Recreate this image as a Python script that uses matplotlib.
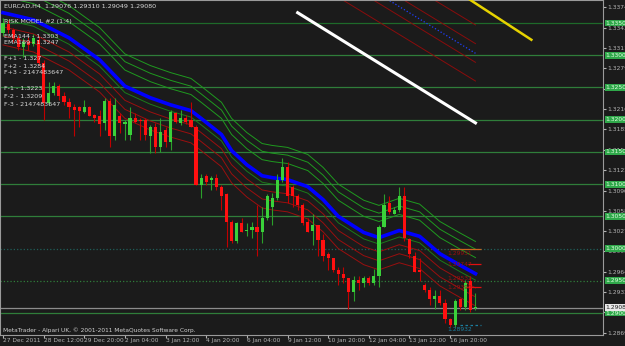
import matplotlib.pyplot as plt
import numpy as np

# EURCAD H4 candles (open, high, low, close)
opens = [1.3335, 1.3349, 1.3339, 1.3327, 1.3313, 1.3321, 1.3318, 1.3324, 1.3288, 1.3226,
         1.3242, 1.3253, 1.3237, 1.3228, 1.3220, 1.3219, 1.3212, 1.3219, 1.3208, 1.3205,
         1.3195, 1.3229, 1.3175, 1.3205, 1.3194, 1.3177, 1.3203, 1.3200, 1.3200, 1.3174,
         1.3189, 1.3157, 1.3184, 1.3166, 1.3211, 1.3195, 1.3203, 1.3200, 1.3189, 1.3099,
         1.3112, 1.3107, 1.3109, 1.3095, 1.3084, 1.3042, 1.3011, 1.3040, 1.3028, 1.3029,
         1.3033, 1.3025, 1.3047, 1.3065, 1.3078, 1.3107, 1.3127, 1.3095, 1.3081, 1.3068,
         1.3042, 1.3028, 1.3036, 1.3014, 1.2991, 1.2985, 1.2967, 1.2960, 1.2954, 1.2933,
         1.2952, 1.2947, 1.2954, 1.2947, 1.2957, 1.3034, 1.3070, 1.3054, 1.3060, 1.3081,
         1.3015, 1.2989, 1.2967, 1.2944, 1.2936, 1.2921, 1.2926, 1.2916, 1.2890, 1.2882,
         1.2921, 1.2909, 1.2949, 1.29076]
highs = [1.3358, 1.3355, 1.3343, 1.3332, 1.3327, 1.3329, 1.3333, 1.3330, 1.3293, 1.3259,
         1.3259, 1.3256, 1.3243, 1.3234, 1.3225, 1.3222, 1.3231, 1.3222, 1.3209, 1.3215,
         1.3233, 1.3234, 1.3234, 1.3211, 1.3200, 1.3220, 1.3211, 1.3203, 1.3203, 1.3192,
         1.3195, 1.3203, 1.3189, 1.3215, 1.3212, 1.3215, 1.3208, 1.3228, 1.3192, 1.3115,
         1.3115, 1.3112, 1.3115, 1.3099, 1.3087, 1.3045, 1.3042, 1.3048, 1.3040, 1.3042,
         1.3068, 1.3065, 1.3084, 1.3087, 1.3115, 1.3140, 1.3135, 1.3099, 1.3084, 1.3071,
         1.3048, 1.3053, 1.3037, 1.3022, 1.2995, 1.2986, 1.2972, 1.2972, 1.2955, 1.2957,
         1.2957, 1.2957, 1.2957, 1.2969, 1.3037, 1.3085, 1.3081, 1.3065, 1.3095, 1.3095,
         1.3017, 1.2995, 1.2986, 1.2947, 1.2941, 1.2936, 1.2936, 1.2921, 1.2893, 1.2921,
         1.2924, 1.2952, 1.2957, 1.29310]
lows = [1.3330, 1.3335, 1.3321, 1.3308, 1.3298, 1.3308, 1.3315, 1.3285, 1.3200, 1.3223,
        1.3239, 1.3231, 1.3223, 1.3203, 1.3174, 1.3188, 1.3211, 1.3205, 1.3197, 1.3174,
        1.3184, 1.3158, 1.3169, 1.3180, 1.3169, 1.3169, 1.3195, 1.3169, 1.3169, 1.3149,
        1.3149, 1.3150, 1.3157, 1.3153, 1.3195, 1.3192, 1.3194, 1.3188, 1.3099, 1.3079,
        1.3099, 1.3091, 1.3091, 1.3060, 1.3003, 1.3009, 1.3009, 1.3025, 1.3019, 1.3017,
        1.2988, 1.3008, 1.3045, 1.3036, 1.3076, 1.3104, 1.3071, 1.3065, 1.3060, 1.3037,
        1.3025, 1.3006, 1.2988, 1.2980, 1.2967, 1.2964, 1.2944, 1.2947, 1.2907, 1.2918,
        1.2936, 1.2941, 1.2944, 1.2944, 1.2941, 1.3033, 1.3053, 1.3053, 1.3057, 1.3011,
        1.2986, 1.2963, 1.2949, 1.2933, 1.2912, 1.2907, 1.2912, 1.2885, 1.2879, 1.2879,
        1.2905, 1.2905, 1.2901, 1.29049]
closes = [1.3350, 1.3339, 1.3327, 1.3313, 1.3321, 1.3316, 1.3327, 1.3288, 1.3226, 1.3242,
          1.3253, 1.3236, 1.3228, 1.3219, 1.3215, 1.3214, 1.3219, 1.3206, 1.3203, 1.3194,
          1.3229, 1.3174, 1.3223, 1.3195, 1.3197, 1.3203, 1.3197, 1.3198, 1.3177, 1.3189,
          1.3157, 1.3181, 1.3166, 1.3212, 1.3197, 1.3203, 1.3197, 1.3188, 1.3099, 1.3110,
          1.3104, 1.3109, 1.3095, 1.3081, 1.3042, 1.3011, 1.3040, 1.3026, 1.3029, 1.3033,
          1.3025, 1.3047, 1.3081, 1.3078, 1.3107, 1.3127, 1.3081, 1.3081, 1.3068, 1.3040,
          1.3026, 1.3036, 1.3014, 1.2989, 1.2985, 1.2966, 1.2960, 1.2954, 1.2933, 1.2952,
          1.2947, 1.2954, 1.2947, 1.2958, 1.3034, 1.3068, 1.3057, 1.3060, 1.3081, 1.3017,
          1.2991, 1.2964, 1.2964, 1.2936, 1.2921, 1.2926, 1.2916, 1.2890, 1.2882, 1.2918,
          1.2909, 1.2947, 1.2905, 1.29080]

# EMA tunnel (read at selected bars)
ema_bars = [0, 6, 13, 19, 24, 29, 33, 37, 39, 43, 45, 48, 51, 53, 56, 60, 63, 66, 71, 74, 78, 82, 86, 90, 93]
ema_vals = [1.3366, 1.3355, 1.3327, 1.3293, 1.3252, 1.3234, 1.3223, 1.3214, 1.3202, 1.3177,
            1.3152, 1.3130, 1.3113, 1.3110, 1.3107, 1.3096, 1.3076, 1.3050, 1.3025, 1.3017,
            1.3028, 1.3019, 1.2992, 1.2974, 1.2961]
upper_offsets = [0.0050, 0.0038, 0.0025]
lower_offsets = [-0.0022, -0.0036, -0.0050]
inner_offset = -0.0010

# projected channel lines in the upper right (bar, price)
white_line = ([58, 93], [1.3366, 1.3195])
yellow_line = ([90, 104], [1.3396, 1.3324])
red_lines = [([72, 93], [1.3390, 1.3289]), ([78, 93], [1.3390, 1.3318]),
             ([84, 93], [1.3390, 1.3347]), ([66, 93], [1.3390, 1.3260])]
blue_dotted = ([75, 93], [1.3390, 1.3303])

levels = [1.335, 1.330, 1.325, 1.320, 1.315, 1.310, 1.305, 1.300, 1.295, 1.290]
scale_ticks = [1.33745, 1.33430, 1.33110, 1.32795, 1.32480, 1.32165, 1.31850, 1.31535,
               1.31220, 1.30900, 1.30585, 1.30270, 1.29955, 1.29640, 1.29325, 1.29010, 1.28690]
date_bars = [0, 8, 16, 24, 32, 40, 48, 56, 64, 72, 80, 88]
date_labels = ['27 Dec 2011', '28 Dec 12:00', '29 Dec 20:00', '2 Jan 04:00', '3 Jan 12:00',
               '4 Jan 20:00', '6 Jan 04:00', '9 Jan 12:00', '10 Jan 20:00', '12 Jan 04:00',
               '13 Jan 12:00', '16 Jan 20:00']
bid = 1.29080
fibo_marks = [1.2993, 1.2975, 1.2953, 1.2939]
fibo_texts = ['1.29931', '1.29747', '1.29532', '1.29390']
low_mark = 1.2881
low_text = '1.28932'

bg = '#1b1b1b'
fig = plt.figure(figsize=(6.25, 3.46), dpi=100, facecolor=bg)
ax = fig.add_axes([0, 11 / 346, 603 / 625, 335 / 346], facecolor=bg)
ax.set_xlim(-0.59, 118.1)
ax.set_ylim(1.28659, 1.33857)

for lv in levels:
    style = ':' if lv in (1.300, 1.295) else '-'
    col = '#1f5f5a' if lv == 1.300 else ('#1e6a2a' if lv == 1.335 else '#2f7d3a')
    ax.axhline(lv, color=col, lw=0.9, ls=style, zorder=1)
ax.axhline(bid, color='#8c8c8c', lw=0.9, zorder=1)

# tunnel bands
ema_bars = np.array(ema_bars)
ema_vals = np.array(ema_vals)
for off in upper_offsets:
    ax.plot(ema_bars, ema_vals + off, color='#1f9a1f', lw=0.7, zorder=2)
ax.plot(ema_bars, ema_vals + inner_offset, color='#1a7a1a', lw=0.7, zorder=2)
for off in lower_offsets:
    ax.plot(ema_bars, ema_vals + off, color='#9a0f0f', lw=0.7, zorder=2)
ax.plot(ema_bars, ema_vals, color='#0000ff', lw=2.6, zorder=3)

for xs, ys in red_lines:
    ax.plot(xs, ys, color='#8a0c0c', lw=0.7, zorder=2)
ax.plot(*blue_dotted, color='#2040ff', lw=0.9, ls=':', zorder=2)
ax.plot(*white_line, color='white', lw=2.2, zorder=3)
ax.plot(*yellow_line, color='#e6d200', lw=1.8, zorder=3)

# candles
idx = np.arange(len(opens))
o = np.array(opens); h = np.array(highs); l = np.array(lows); c = np.array(closes)
up = c >= o
ax.vlines(idx[up], l[up], h[up], color='#2aa02a', lw=0.8, zorder=4)
ax.vlines(idx[~up], l[~up], h[~up], color='#c00000', lw=0.8, zorder=4)
body = np.maximum(np.abs(c - o), 0.00012)
ax.bar(idx[up], body[up], bottom=np.minimum(o, c)[up], width=0.62, color='#3ad23a', zorder=5)
ax.bar(idx[~up], body[~up], bottom=np.minimum(o, c)[~up], width=0.62, color='#ff1010', zorder=5)

# markers at the right end of the price action
ax.hlines(1.3000, 88, 94, color='#c8641e', lw=0.9, zorder=4)
ax.hlines([1.2976, 1.2941], [91.5, 90.5], 94, color='#e01010', lw=0.9, zorder=4)
ax.hlines(low_mark, 90, 94, color='#1c7fa0', lw=0.9, ls=(0, (2, 2)), zorder=4)
for v, t in zip(fibo_marks, fibo_texts):
    ax.text(87.5, v, t, fontsize=4.3, color='#9a1010', va='center', ha='left', zorder=6)
ax.text(87.5, low_mark - 0.0003, low_text, fontsize=4.3, color='#1c7fa0', va='top', ha='left', zorder=6)

# price scale on the right
for s in ax.spines.values():
    s.set_color('#9a9a9a')
    s.set_linewidth(0.8)
ax.yaxis.tick_right()
ax.set_yticks(scale_ticks)
ax.set_yticklabels([f'{t:.5f}' for t in scale_ticks])
ax.tick_params(axis='y', colors='#b4b4b4', labelsize=4.3, length=2, pad=1)
for lv in levels:
    ax.text(1.004, lv, f'{lv:.5f}', transform=ax.get_yaxis_transform(), fontsize=4.3,
            color='#dfffdf', va='center', ha='left', clip_on=False, zorder=10,
            bbox=dict(boxstyle='square,pad=0.15', fc='#2fa84a', ec='none'))
ax.text(1.004, bid, f'{bid:.5f}', transform=ax.get_yaxis_transform(), fontsize=4.3,
        color='#202020', va='center', ha='left', clip_on=False, zorder=11,
        bbox=dict(boxstyle='square,pad=0.15', fc='#e8e8e8', ec='none'))

ax.set_xticks(date_bars)
ax.set_xticklabels(date_labels, ha='left')
ax.tick_params(axis='x', colors='#b4b4b4', labelsize=4.2, length=2, pad=0.5)

# header and indicator legend, one row each
info = [('EURCAD,H4  1.29076 1.29310 1.29049 1.29080', 6), ('RISK MODEL #2 (1:4)', 21),
        ('EMA144 - 1.3303', 36), ('EMA169 - 1.3247', 43),
        ('F+1 - 1.327', 58), ('F+2 - 1.3284', 66), ('F+3 - 2147483647', 73),
        ('F-1 - 1.3223', 89), ('F-2 - 1.3209', 97), ('F-3 - 2147483647', 104)]
for txt, row in info:
    ax.text(0.006, 1 - row / 335, txt, transform=ax.transAxes, va='center', ha='left',
            fontsize=4.6, color='#d8d8d8', zorder=8)
ax.text(0.005, 1 - 330 / 335, 'MetaTrader - Alpari UK, \u00a9 2001-2011 MetaQuotes Software Corp.',
        transform=ax.transAxes, va='center', ha='left', fontsize=4.2, color='#d0d0d0', zorder=8)

fig.savefig('out.png', dpi=100, facecolor=bg)
